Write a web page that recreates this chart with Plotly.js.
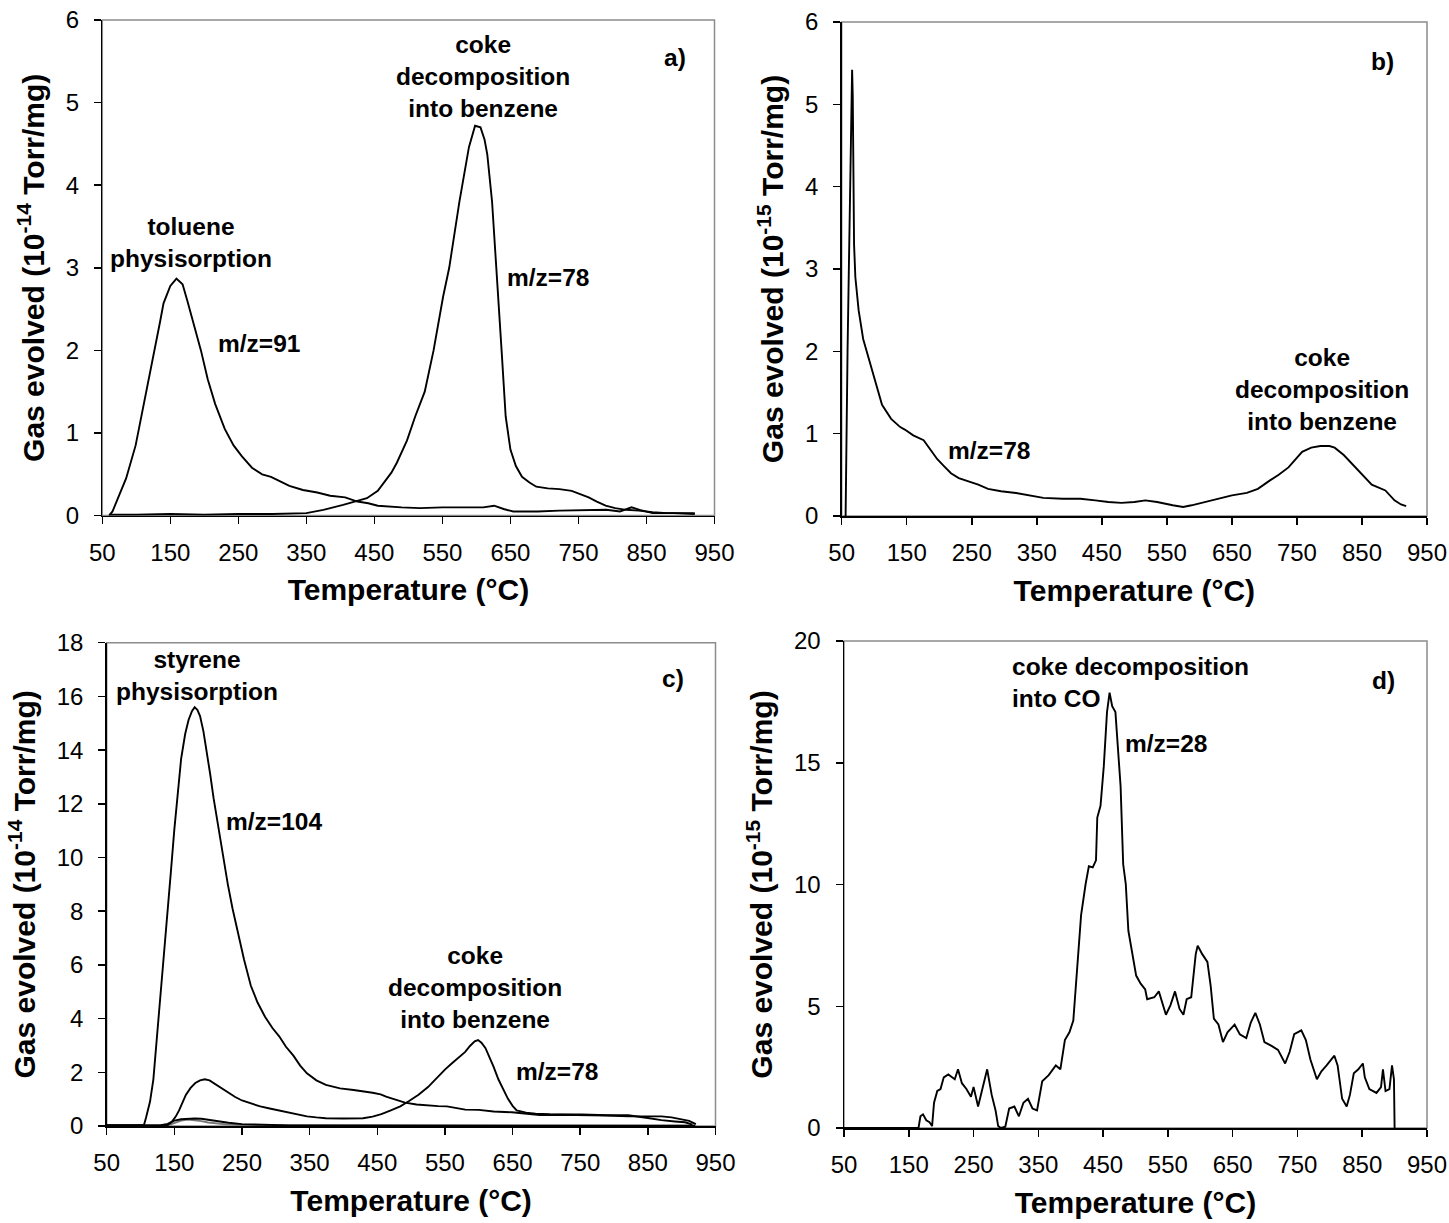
<!DOCTYPE html>
<html>
<head>
<meta charset="utf-8">
<script src="https://cdn.plot.ly/plotly-3.0.1.min.js"></script>
<style>html,body{margin:0;padding:0;background:#fff;}#chart{width:1449px;height:1223px;}</style>
</head>
<body>
<div id="chart"></div>
<script>
// ---------- data (temperature in °C, signal in axis units) ----------
const tempA91 = [60,65,75,85,99,110,120,127,135,140,150,159,168,175,185,195,205,216,230,243,255,270,285,298,310,325,345,366,385,407,425,441,455,469,490,517,550,585,610,626,640,654,690,722,760,791,811,828,840,859,890,921];
const gasA91  = [0,0.05,0.25,0.45,0.85,1.3,1.7,2.0,2.35,2.57,2.78,2.87,2.8,2.6,2.3,2.0,1.65,1.35,1.05,0.85,0.72,0.58,0.5,0.47,0.42,0.36,0.31,0.28,0.24,0.22,0.17,0.15,0.12,0.11,0.1,0.09,0.1,0.1,0.1,0.12,0.08,0.05,0.05,0.06,0.07,0.07,0.05,0.1,0.07,0.03,0.03,0.02];

const tempA78 = [60,100,150,200,250,300,350,375,404,425,439,455,463,475,483,498,510,524,537,551,560,568,575,582,589,598,606,612,616,623,630,637,643,650,658,667,678,688,705,722,740,750,765,777,790,804,820,839,859,880,900,921];
const gasA78  = [0.01,0.01,0.02,0.01,0.02,0.02,0.03,0.07,0.13,0.18,0.21,0.3,0.39,0.52,0.64,0.91,1.2,1.5,2.0,2.65,3.0,3.45,3.8,4.13,4.46,4.72,4.7,4.55,4.37,3.8,2.95,2.0,1.2,0.8,0.6,0.47,0.4,0.35,0.33,0.32,0.3,0.27,0.22,0.17,0.12,0.09,0.07,0.06,0.04,0.03,0.03,0.03];

const tempB78 = [56,57,59,61,63,64.5,66,67,68,69,71,76,83,90,98,105,112,126,140,147,160,176,187,197,208,218,230,247,260,275,295,318,340,360,390,417,440,460,480,500,517,535,559,575,588,610,630,650,673,690,708,722,737,758,772,786,800,808,822,836,850,865,886,900,910,918];
const gasB78  = [0,1.0,2.0,3.0,4.0,4.9,5.42,5.1,4.1,3.3,2.9,2.5,2.15,1.95,1.73,1.55,1.35,1.18,1.08,1.05,0.98,0.92,0.8,0.69,0.6,0.52,0.46,0.42,0.38,0.33,0.3,0.28,0.25,0.22,0.21,0.21,0.19,0.17,0.16,0.17,0.19,0.17,0.13,0.11,0.13,0.17,0.21,0.25,0.28,0.33,0.43,0.5,0.59,0.78,0.83,0.85,0.85,0.83,0.74,0.62,0.5,0.38,0.31,0.19,0.14,0.12];

const tempC104 = [50,80,105,108,114,119,124,129,135,140,145,150,155,160,166,171,176,180,184,188,193,198,203,208,214,219,224,229,236,243,253,263,273,284,295,305,315,326,336,346,360,374,395,415,430,443,455,463,477,491,508,525,540,553,567,580,600,622,649,670,690,720,752,790,821,850,870,885,897,911,921];
const gasC104  = [0.03,0.03,0.03,0.3,0.9,1.74,3.2,4.65,6.3,7.85,9.5,11.05,12.5,13.67,14.6,15.12,15.45,15.6,15.5,15.27,14.7,13.96,13.1,12.21,11.3,10.47,9.7,9.01,8.1,7.27,6.2,5.23,4.6,4.07,3.65,3.34,2.95,2.62,2.25,1.96,1.7,1.53,1.4,1.34,1.3,1.24,1.18,1.09,0.98,0.87,0.8,0.76,0.74,0.73,0.68,0.61,0.6,0.54,0.51,0.47,0.41,0.42,0.41,0.39,0.36,0.37,0.36,0.32,0.26,0.19,0.07];

const tempC78 = [50,100,140,146,152,157,162,167,174,181,188,195,202,208,218,229,240,250,263,277,291,305,325,346,360,374,400,429,443,456,470,484,497,511,525,539,550,560,570,580,587,594,599,604,610,615,622,629,636,643,650,656,670,684,705,730,752,790,821,850,870,890,905,916];
const gasC78  = [0.02,0.02,0.03,0.15,0.35,0.58,0.85,1.16,1.42,1.6,1.7,1.74,1.7,1.6,1.42,1.24,1.08,0.95,0.83,0.73,0.65,0.58,0.47,0.36,0.32,0.29,0.28,0.29,0.35,0.44,0.58,0.73,0.93,1.16,1.45,1.82,2.1,2.33,2.55,2.76,2.98,3.15,3.2,3.1,2.9,2.62,2.2,1.74,1.35,1.02,0.75,0.58,0.5,0.46,0.44,0.44,0.43,0.4,0.4,0.3,0.22,0.17,0.14,0.05];

const tempCLow1 = [50,100,130,140,150,160,170,180,190,200,215,230,250,280,320,400,500,600,700,800,900,920];
const gasCLow1  = [0.02,0.02,0.03,0.08,0.2,0.25,0.27,0.28,0.27,0.23,0.17,0.12,0.07,0.04,0.02,0.02,0.01,0.01,0.01,0.01,0.01,0.01];
const tempCLow2 = [140,150,160,170,180,190,200,215,230,260,300,400,550,700,850,920];
const gasCLow2  = [0.02,0.1,0.2,0.24,0.22,0.18,0.13,0.08,0.05,0.03,0.02,0.02,0.02,0.01,0.01,0.01];

const tempD28 = [50,165,168,172,177,182,186,189,194,199,204,211,221,226,232,239,246,250,257,264,271,278,284,288,292,299,305,313,320,327,334,341,348,356,366,377,384,391,398,404,409,416,423,428,434,439,441,446,451,456,460,464,469,473,477,481,485,489,494,501,508,515,518,529,536,543,547,554,561,568,574,579,586,593,596,603,611,616,621,628,635,642,653,661,671,678,685,692,699,710,720,731,738,745,756,763,770,780,787,795,807,812,819,826,831,837,844,851,854,861,872,879,882,886,892,896,899,900];
const gasD28  = [0,0,0.48,0.56,0.32,0.24,0.08,1.04,1.52,1.6,2.08,2.2,2.0,2.41,1.84,1.6,1.28,1.68,0.88,1.68,2.41,1.36,0.72,0.08,0,0.05,0.8,0.88,0.48,1.04,1.2,0.8,0.72,1.92,2.17,2.57,2.41,3.61,3.93,4.41,6.34,8.74,10.02,10.75,10.7,10.99,12.75,13.23,14.84,17.08,17.88,17.32,17.08,15.64,14.03,10.83,10.02,8.1,7.3,6.26,5.93,5.69,5.29,5.37,5.61,5.05,4.65,5.05,5.61,4.89,4.65,5.29,5.37,7.14,7.49,7.14,6.82,5.85,4.49,4.25,3.53,3.93,4.25,3.85,3.69,4.33,4.73,4.25,3.53,3.37,3.21,2.65,3.13,3.85,4.01,3.61,2.81,2.0,2.33,2.57,2.97,2.57,1.2,0.88,1.36,2.25,2.41,2.65,2.08,1.6,1.44,1.68,2.41,1.52,1.6,2.57,2.0,0];

const xTickVals = [50,150,250,350,450,550,650,750,850,950];
const xTitle = "Temperature (°C)";
const yTitle14 = "Gas evolved (10<sup>-14</sup> Torr/mg)";
const yTitle15 = "Gas evolved (10<sup>-15</sup> Torr/mg)";

// ---------- layout helpers ----------
const W = 1449, H = 1223;
const FONT = "Liberation Sans, Arial, sans-serif";
function dx(a, b){ return [a / W, b / W]; }
function dy(top, bottom){ return [1 - bottom / H, 1 - top / H]; }

function xAxis(domain, anchor){
  return {
    domain: domain, anchor: anchor, range: [50, 950], tickvals: xTickVals,
    showline: true, linecolor: "#000", linewidth: 1.5, mirror: false,
    ticks: "outside", ticklen: 7, tickcolor: "#000", tickwidth: 1.5,
    showgrid: false, zeroline: false, ticklabelstandoff: 8, ticklabeloverflow: "allow",
    tickfont: {family: FONT, size: 24, color: "#000"},
    title: {text: xTitle, standoff: 14, font: {family: FONT, size: 30, color: "#000", weight: "bold"}}
  };
}
function yAxis(domain, anchor, range, dtick, title){
  return {
    domain: domain, anchor: anchor, range: range, dtick: dtick, tick0: 0,
    showline: true, linecolor: "#000", linewidth: 1.5,
    ticks: "outside", ticklen: 7, tickcolor: "#000", tickwidth: 1.5,
    showgrid: false, zeroline: false, ticklabelstandoff: 10, ticklabeloverflow: "allow",
    tickfont: {family: FONT, size: 24, color: "#000"},
    title: {text: title, standoff: 12, font: {family: FONT, size: 30, color: "#000", weight: "bold"}}
  };
}
function line(x, y, xa, ya, color){
  return {x: x, y: y, xaxis: xa, yaxis: ya, type: "scatter", mode: "lines",
          line: {color: color || "#000", width: 1.9}, hoverinfo: "skip", showlegend: false};
}

const traces = [
  line(tempA91, gasA91, "x", "y"),
  line(tempA78, gasA78, "x", "y"),
  line(tempB78, gasB78, "x2", "y2"),
  line(tempCLow2, gasCLow2, "x3", "y3", "#777"),
  line(tempCLow1, gasCLow1, "x3", "y3"),
  line(tempC104, gasC104, "x3", "y3"),
  line(tempC78, gasC78, "x3", "y3"),
  line(tempD28, gasD28, "x4", "y4")
];

function ann(text, x, y, xref, yref, extra){
  return Object.assign({text: text, x: x, y: y, xref: xref, yref: yref, showarrow: false,
    xanchor: "center", yanchor: "middle", align: "center",
    font: {family: FONT, size: 24.5, color: "#000", weight: "bold"}}, extra || {});
}
const annotations = [
  ann("toluene<br>physisorption", 180, 3.31, "x", "y"),
  ann("m/z=91", 281, 2.08, "x", "y"),
  ann("coke<br>decomposition<br>into benzene", 609, 5.31, "x", "y"),
  ann("m/z=78", 705, 2.88, "x", "y"),
  ann("a)", 892, 5.55, "x", "y"),
  ann("m/z=78", 277, 0.80, "x2", "y2"),
  ann("coke<br>decomposition<br>into benzene", 789, 1.54, "x2", "y2"),
  ann("b)", 882, 5.52, "x2", "y2"),
  ann("styrene<br>physisorption", 184, 16.79, "x3", "y3"),
  ann("m/z=104", 298, 11.34, "x3", "y3"),
  ann("coke<br>decomposition<br>into benzene", 594, 5.16, "x3", "y3"),
  ann("m/z=78", 715, 2.03, "x3", "y3"),
  ann("c)", 887, 16.65, "x3", "y3"),
  ann("coke decomposition<br>into CO", 307, 18.28, "x4", "y4", {xanchor: "left", align: "left"}),
  ann("m/z=28", 547, 15.8, "x4", "y4"),
  ann("d)", 883, 18.36, "x4", "y4")
];

function frame(xr, yr){
  return {type: "rect", xref: xr + " domain", yref: yr + " domain", x0: 0, x1: 1, y0: 0, y1: 1,
          line: {color: "#8c8c8c", width: 1.5}, layer: "below"};
}

const layout = {
  width: W, height: H, margin: {l: 0, r: 0, t: 0, b: 0},
  paper_bgcolor: "#fff", plot_bgcolor: "#fff", showlegend: false,
  font: {family: FONT, color: "#000"},
  xaxis:  xAxis(dx(102.3, 714.5), "y"),
  yaxis:  yAxis(dy(20, 515.6), "x", [0, 6], 1, yTitle14),
  xaxis2: xAxis(dx(841.7, 1427), "y2"),
  yaxis2: yAxis(dy(22, 516), "x2", [0, 6], 1, yTitle15),
  xaxis3: xAxis(dx(106.7, 715.5), "y3"),
  yaxis3: yAxis(dy(642.7, 1126), "x3", [0, 18], 2, yTitle14),
  xaxis4: xAxis(dx(844, 1427), "y4"),
  yaxis4: yAxis(dy(641, 1128), "x4", [0, 20], 5, yTitle15),
  annotations: annotations,
  shapes: [frame("x", "y"), frame("x2", "y2"), frame("x3", "y3"), frame("x4", "y4")]
};

Plotly.newPlot("chart", traces, layout, {staticPlot: true, displayModeBar: false});
</script>
</body>
</html>
